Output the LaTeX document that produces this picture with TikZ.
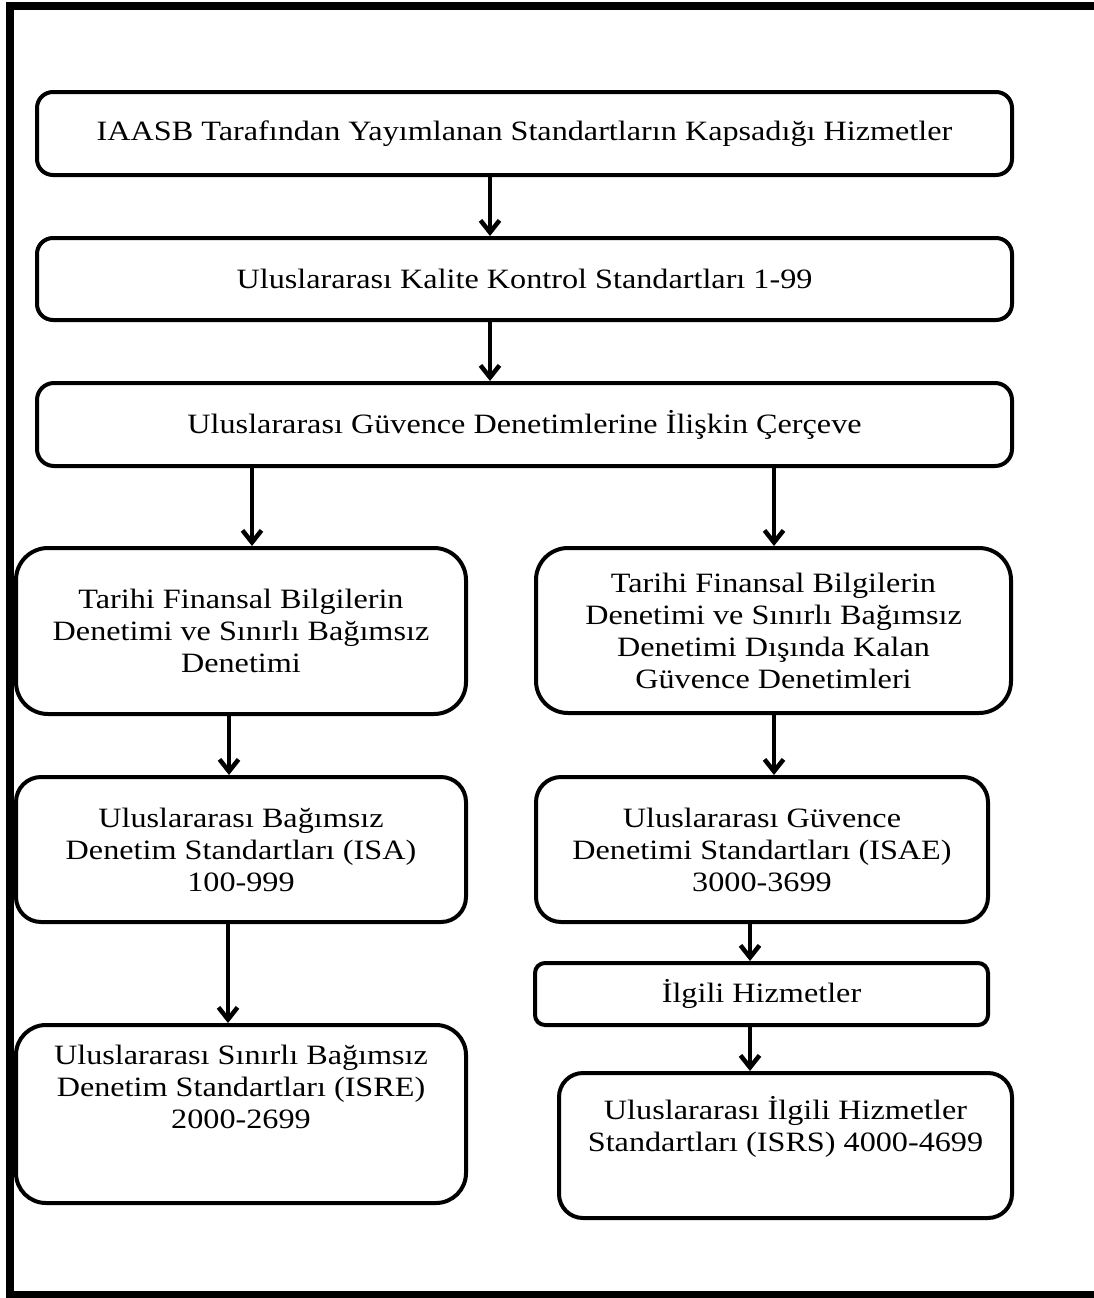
\documentclass[tikz,border=0pt]{standalone}
\usepackage{fontspec}
\setmainfont{Liberation Serif}[FakeStretch=1.15]
\usetikzlibrary{arrows.meta}
\tikzset{
  box/.style={draw=black, line width=4pt, fill=white, inner sep=0pt, align=center,
    font=\fontsize{28}{32}\selectfont},
  arr/.style={line width=4.5pt, -{Straight Barb[length=12pt,width=19pt]}},
  frame/.style={line width=8pt}
}
\begin{document}
\begin{tikzpicture}[x=1pt,y=-1pt]
\useasboundingbox (0,0) rectangle (1094,1298);
\fill[white] (0,0) rectangle (1094,1298);
\begin{scope}
\clip (0,0) rectangle (1094,1298);
\draw[frame] (1110,6.5) -- (10,6.5) -- (10,1294.5) -- (1110,1294.5);
\end{scope}

\node[box, rounded corners=16pt, minimum width=975pt, minimum height=83pt] (b1) at (524.5,133.5)
  {IAASB Tarafından Yayımlanan Standartların Kapsadığı Hizmetler};
\node[box, rounded corners=16pt, minimum width=975pt, minimum height=82pt] (b2) at (524.5,279)
  {Uluslararası Kalite Kontrol Standartları 1-99};
\node[box, rounded corners=17pt, minimum width=975pt, minimum height=83pt] (b3) at (524.5,424.5)
  {Uluslararası Güvence Denetimlerine İlişkin Çerçeve};
\node[box, rounded corners=32pt, minimum width=450pt, minimum height=166pt] (b4l) at (241,631)
  {Tarihi Finansal Bilgilerin\\Denetimi ve Sınırlı Bağımsız\\Denetimi};
\node[box, rounded corners=32pt, minimum width=475pt, minimum height=165pt] (b4r) at (773.5,630.5)
  {Tarihi Finansal Bilgilerin\\Denetimi ve Sınırlı Bağımsız\\Denetimi Dışında Kalan\\Güvence Denetimleri};
\node[box, rounded corners=25pt, minimum width=450pt, minimum height=145pt] (b5l) at (241,849.5)
  {Uluslararası Bağımsız\\Denetim Standartları (ISA)\\100-999};
\node[box, rounded corners=25pt, minimum width=452pt, minimum height=145pt] (b5r) at (762,849.5)
  {Uluslararası Güvence\\Denetimi Standartları (ISAE)\\3000-3699};
\node[box, rounded corners=10pt, minimum width=453pt, minimum height=62pt] (b6) at (761.5,994)
  {İlgili Hizmetler};
\node[box, rounded corners=30pt, minimum width=450pt, minimum height=178pt,
  label={[name=t7l, align=center, font=\fontsize{28}{32}\selectfont, yshift=27pt]center:Uluslararası Sınırlı Bağımsız\\Denetim Standartları (ISRE)\\2000-2699}] (b7l) at (241,1114) {};
\node[box, rounded corners=24pt, minimum width=453pt, minimum height=145pt,
  label={[name=t7r, align=center, font=\fontsize{28}{32}\selectfont, yshift=18.5pt]center:Uluslararası İlgili Hizmetler\\Standartları (ISRS) 4000-4699}] (b7r) at (785.5,1145.5) {};

\draw[arr] ([xshift=-34.5pt]b1.south) -- ([xshift=-34.5pt]b2.north);
\draw[arr] ([xshift=-34.5pt]b2.south) -- ([xshift=-34.5pt]b3.north);
\draw[arr] ([xshift=-272.5pt]b3.south) -- ([xshift=11pt]b4l.north);
\draw[arr] ([xshift=249.5pt]b3.south) -- ([xshift=0.5pt]b4r.north);
\draw[arr] ([xshift=-12pt]b4l.south) -- ([xshift=-12pt]b5l.north);
\draw[arr] ([xshift=0.5pt]b4r.south) -- ([xshift=12pt]b5r.north);
\draw[arr] ([xshift=-13pt]b5l.south) -- ([xshift=-13pt]b7l.north);
\draw[arr] ([xshift=-12pt]b5r.south) -- ([xshift=-11.5pt]b6.north);
\draw[arr] ([xshift=-11.5pt]b6.south) -- ([xshift=-35.5pt]b7r.north);
\end{tikzpicture}
\end{document}
